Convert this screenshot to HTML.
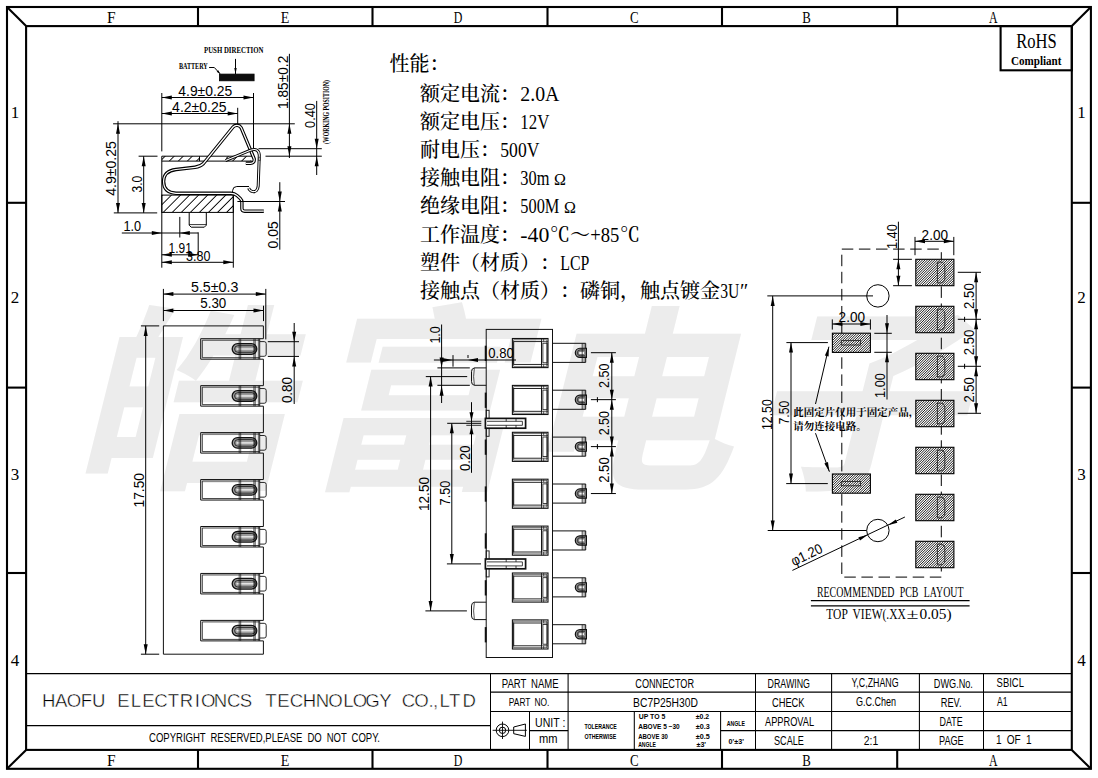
<!DOCTYPE html>
<html lang="zh"><head><meta charset="utf-8"><title>BC7P25H30D CONNECTOR</title>
<style>html,body{margin:0;padding:0;background:#fff;}svg{display:block;}text{white-space:pre;text-spacing-trim:space-all;}</style></head>
<body>
<svg width="1098" height="778" viewBox="0 0 1098 778">
<defs>
<pattern id="hpad" width="1.76" height="1.76" patternUnits="userSpaceOnUse" patternTransform="rotate(-45)"><rect width="1.76" height="1.76" fill="#fff"/><line x1="0" y1="0.88" x2="1.76" y2="0.88" stroke="#000" stroke-width="0.92"/></pattern>
<pattern id="hbat" width="2" height="2" patternUnits="userSpaceOnUse" patternTransform="rotate(-45)"><rect width="2" height="2" fill="#333"/><line x1="0" y1="1" x2="2" y2="1" stroke="#000" stroke-width="1.4"/></pattern>
<pattern id="hwall" width="6.4" height="6.4" patternUnits="userSpaceOnUse" patternTransform="rotate(-45)"><line x1="0" y1="3.2" x2="6.4" y2="3.2" stroke="#000" stroke-width="0.9"/></pattern>
</defs>
<rect width="1098" height="778" fill="#fff"/>
<g transform="translate(71,473.8) skewX(-14) scale(1.08,1)"><text x="0 214.7 413.7 625.6" y="0" font-size="199" font-family="'Liberation Sans', 'Noto Sans CJK SC', sans-serif" font-weight="700" fill="#ececec">皓富电子</text></g>
<rect x="7" y="7" width="1083.9" height="761.8" fill="none" stroke="#000" stroke-width="2.1" />
<rect x="26.1" y="26.1" width="1045.7" height="723.8" fill="none" stroke="#000" stroke-width="2.1" />
<line x1="7" y1="7" x2="26.1" y2="26.1" stroke="#000" stroke-width="2.1" />
<line x1="1090.9" y1="7" x2="1071.8" y2="26.1" stroke="#000" stroke-width="2.1" />
<line x1="7" y1="768.8" x2="26.1" y2="749.9" stroke="#000" stroke-width="2.1" />
<line x1="1090.9" y1="768.8" x2="1071.8" y2="749.9" stroke="#000" stroke-width="2.1" />
<line x1="198" y1="7" x2="198" y2="26.1" stroke="#000" stroke-width="2.1" />
<line x1="198" y1="749.9" x2="198" y2="768.8" stroke="#000" stroke-width="2.1" />
<line x1="372.5" y1="7" x2="372.5" y2="26.1" stroke="#000" stroke-width="2.1" />
<line x1="372.5" y1="749.9" x2="372.5" y2="768.8" stroke="#000" stroke-width="2.1" />
<line x1="547.5" y1="7" x2="547.5" y2="26.1" stroke="#000" stroke-width="2.1" />
<line x1="547.5" y1="749.9" x2="547.5" y2="768.8" stroke="#000" stroke-width="2.1" />
<line x1="722" y1="7" x2="722" y2="26.1" stroke="#000" stroke-width="2.1" />
<line x1="722" y1="749.9" x2="722" y2="768.8" stroke="#000" stroke-width="2.1" />
<line x1="897.2" y1="7" x2="897.2" y2="26.1" stroke="#000" stroke-width="2.1" />
<line x1="897.2" y1="749.9" x2="897.2" y2="768.8" stroke="#000" stroke-width="2.1" />
<line x1="7" y1="202.8" x2="26.1" y2="202.8" stroke="#000" stroke-width="2.1" />
<line x1="1071.8" y1="202.8" x2="1090.9" y2="202.8" stroke="#000" stroke-width="2.1" />
<line x1="7" y1="387.6" x2="26.1" y2="387.6" stroke="#000" stroke-width="2.1" />
<line x1="1071.8" y1="387.6" x2="1090.9" y2="387.6" stroke="#000" stroke-width="2.1" />
<line x1="7" y1="573" x2="26.1" y2="573" stroke="#000" stroke-width="2.1" />
<line x1="1071.8" y1="573" x2="1090.9" y2="573" stroke="#000" stroke-width="2.1" />
<text x="111.2" y="23" font-size="17" font-family="'Liberation Serif', 'Noto Serif CJK SC', serif" text-anchor="middle" fill="#000" textLength="8.6" lengthAdjust="spacingAndGlyphs" >F</text>
<text x="111.2" y="765.5" font-size="17" font-family="'Liberation Serif', 'Noto Serif CJK SC', serif" text-anchor="middle" fill="#000" textLength="8.6" lengthAdjust="spacingAndGlyphs" >F</text>
<text x="285" y="23" font-size="17" font-family="'Liberation Serif', 'Noto Serif CJK SC', serif" text-anchor="middle" fill="#000" textLength="8.6" lengthAdjust="spacingAndGlyphs" >E</text>
<text x="285" y="765.5" font-size="17" font-family="'Liberation Serif', 'Noto Serif CJK SC', serif" text-anchor="middle" fill="#000" textLength="8.6" lengthAdjust="spacingAndGlyphs" >E</text>
<text x="458" y="23" font-size="17" font-family="'Liberation Serif', 'Noto Serif CJK SC', serif" text-anchor="middle" fill="#000" textLength="8.6" lengthAdjust="spacingAndGlyphs" >D</text>
<text x="458" y="765.5" font-size="17" font-family="'Liberation Serif', 'Noto Serif CJK SC', serif" text-anchor="middle" fill="#000" textLength="8.6" lengthAdjust="spacingAndGlyphs" >D</text>
<text x="634.3" y="23" font-size="17" font-family="'Liberation Serif', 'Noto Serif CJK SC', serif" text-anchor="middle" fill="#000" textLength="8.6" lengthAdjust="spacingAndGlyphs" >C</text>
<text x="634.3" y="765.5" font-size="17" font-family="'Liberation Serif', 'Noto Serif CJK SC', serif" text-anchor="middle" fill="#000" textLength="8.6" lengthAdjust="spacingAndGlyphs" >C</text>
<text x="806.5" y="23" font-size="17" font-family="'Liberation Serif', 'Noto Serif CJK SC', serif" text-anchor="middle" fill="#000" textLength="8.6" lengthAdjust="spacingAndGlyphs" >B</text>
<text x="806.5" y="765.5" font-size="17" font-family="'Liberation Serif', 'Noto Serif CJK SC', serif" text-anchor="middle" fill="#000" textLength="8.6" lengthAdjust="spacingAndGlyphs" >B</text>
<text x="993.2" y="23" font-size="17" font-family="'Liberation Serif', 'Noto Serif CJK SC', serif" text-anchor="middle" fill="#000" textLength="8.6" lengthAdjust="spacingAndGlyphs" >A</text>
<text x="993.2" y="765.5" font-size="17" font-family="'Liberation Serif', 'Noto Serif CJK SC', serif" text-anchor="middle" fill="#000" textLength="8.6" lengthAdjust="spacingAndGlyphs" >A</text>
<text x="15" y="118" font-size="17" font-family="'Liberation Serif', 'Noto Serif CJK SC', serif" text-anchor="middle" fill="#000" >1</text>
<text x="1081.5" y="118" font-size="17" font-family="'Liberation Serif', 'Noto Serif CJK SC', serif" text-anchor="middle" fill="#000" >1</text>
<text x="15" y="303.2" font-size="17" font-family="'Liberation Serif', 'Noto Serif CJK SC', serif" text-anchor="middle" fill="#000" >2</text>
<text x="1081.5" y="303.2" font-size="17" font-family="'Liberation Serif', 'Noto Serif CJK SC', serif" text-anchor="middle" fill="#000" >2</text>
<text x="15" y="480.1" font-size="17" font-family="'Liberation Serif', 'Noto Serif CJK SC', serif" text-anchor="middle" fill="#000" >3</text>
<text x="1081.5" y="480.1" font-size="17" font-family="'Liberation Serif', 'Noto Serif CJK SC', serif" text-anchor="middle" fill="#000" >3</text>
<text x="15" y="666.2" font-size="17" font-family="'Liberation Serif', 'Noto Serif CJK SC', serif" text-anchor="middle" fill="#000" >4</text>
<text x="1081.5" y="666.2" font-size="17" font-family="'Liberation Serif', 'Noto Serif CJK SC', serif" text-anchor="middle" fill="#000" >4</text>
<rect x="1000.6" y="26.1" width="71.2" height="44.2" fill="none" stroke="#000" stroke-width="2.1" />
<text x="1036.4" y="48.3" font-size="22" font-family="'Liberation Serif', 'Noto Serif CJK SC', serif" text-anchor="middle" fill="#000" textLength="40.5" lengthAdjust="spacingAndGlyphs" >RoHS</text>
<text x="1036.2" y="64.8" font-size="11.5" font-family="'Liberation Serif', 'Noto Serif CJK SC', serif" text-anchor="middle" fill="#000" font-weight="bold" textLength="50.5" lengthAdjust="spacingAndGlyphs" >Compliant</text>
<line x1="26.1" y1="673.6" x2="1071.8" y2="673.6" stroke="#000" stroke-width="1.05" />
<line x1="26.1" y1="725.6" x2="490.5" y2="725.6" stroke="#000" stroke-width="1.05" />
<line x1="490.5" y1="673.6" x2="490.5" y2="749.9" stroke="#000" stroke-width="1.05" />
<line x1="490.5" y1="692.1" x2="1071.8" y2="692.1" stroke="#000" stroke-width="1.05" />
<line x1="490.5" y1="711.4" x2="1071.8" y2="711.4" stroke="#000" stroke-width="1.05" />
<line x1="529.5" y1="730.6" x2="568.1" y2="730.6" stroke="#000" stroke-width="1.05" />
<line x1="720.6" y1="730.6" x2="1071.8" y2="730.6" stroke="#000" stroke-width="1.05" />
<line x1="529.5" y1="711.4" x2="529.5" y2="749.9" stroke="#000" stroke-width="1.05" />
<line x1="568.1" y1="673.6" x2="568.1" y2="749.9" stroke="#000" stroke-width="1.05" />
<line x1="634.3" y1="711.4" x2="634.3" y2="749.9" stroke="#000" stroke-width="1.05" />
<line x1="720.6" y1="711.4" x2="720.6" y2="749.9" stroke="#000" stroke-width="1.05" />
<line x1="755.5" y1="673.6" x2="755.5" y2="749.9" stroke="#000" stroke-width="1.05" />
<line x1="831.6" y1="673.6" x2="831.6" y2="749.9" stroke="#000" stroke-width="1.05" />
<line x1="919.4" y1="673.6" x2="919.4" y2="749.9" stroke="#000" stroke-width="1.05" />
<line x1="983.5" y1="673.6" x2="983.5" y2="749.9" stroke="#000" stroke-width="1.05" />
<circle cx="502.5" cy="730.3" r="6.3" fill="none" stroke="#000" stroke-width="1"/>
<circle cx="502.5" cy="730.3" r="3.2" fill="none" stroke="#000" stroke-width="1"/>
<line x1="492.6" y1="730.3" x2="526.8" y2="730.3" stroke="#000" stroke-width="0.9" />
<line x1="502.5" y1="721.6" x2="502.5" y2="739" stroke="#000" stroke-width="0.9" />
<path d="M513.7,727 L525.4,724 L525.4,736.4 L513.7,733.7 Z" fill="none" stroke="#000" stroke-width="1" />
<text x="48.6 61.2 73.9 86.5 98.8 111.2 123.5 136 148.5 161 173.5 186.5 197.3 208.2 220.5 233.7 246 258.5 271 283.5 296.5 309.5 322.5 335.5 348.5 360 372.5 385.5 397 408.5 421.5 431 435.5 444.6 454.8 469.3" y="706.6" font-size="18.6" font-family="'Liberation Sans', sans-serif" text-anchor="middle" fill="#000" stroke="#fff" stroke-width="0.45">HAOFU ELECTRIONCS TECHNOLOGY CO.,LTD</text>
<text x="149" y="742.3" font-size="12.3" font-family="'Liberation Sans', sans-serif" text-anchor="start" fill="#000" textLength="231" lengthAdjust="spacingAndGlyphs" word-spacing="3">COPYRIGHT RESERVED,PLEASE DO NOT COPY.</text>
<text x="501.8" y="688" font-size="13.2" font-family="'Liberation Sans', sans-serif" text-anchor="start" fill="#000" textLength="56.8" lengthAdjust="spacingAndGlyphs" word-spacing="3">PART NAME</text>
<text x="508.8" y="705.8" font-size="11.3" font-family="'Liberation Sans', sans-serif" text-anchor="start" fill="#000" textLength="40.6" lengthAdjust="spacingAndGlyphs" word-spacing="2.5">PART NO.</text>
<text x="535.1" y="727" font-size="12.2" font-family="'Liberation Sans', sans-serif" text-anchor="start" fill="#000" textLength="30.3" lengthAdjust="spacingAndGlyphs" >UNIT :</text>
<text x="538.9" y="742.7" font-size="12.5" font-family="'Liberation Sans', sans-serif" text-anchor="start" fill="#000" textLength="18.5" lengthAdjust="spacingAndGlyphs" >mm</text>
<text x="584.4" y="728.8" font-size="8" font-family="'Liberation Sans', sans-serif" text-anchor="start" fill="#000" font-weight="bold" textLength="32.3" lengthAdjust="spacingAndGlyphs" >TOLERANCE</text>
<text x="584.4" y="739" font-size="8" font-family="'Liberation Sans', sans-serif" text-anchor="start" fill="#000" font-weight="bold" textLength="31.8" lengthAdjust="spacingAndGlyphs" >OTHERWISE</text>
<text x="635.3" y="688" font-size="13.2" font-family="'Liberation Sans', sans-serif" text-anchor="start" fill="#000" textLength="58.7" lengthAdjust="spacingAndGlyphs" >CONNECTOR</text>
<text x="633.1" y="707.4" font-size="12.8" font-family="'Liberation Sans', sans-serif" text-anchor="start" fill="#000" textLength="64.9" lengthAdjust="spacingAndGlyphs" >BC7P25H30D</text>
<text x="638.7" y="719.2" font-size="7.2" font-family="'Liberation Sans', sans-serif" text-anchor="start" fill="#000" font-weight="bold" textLength="26.6" lengthAdjust="spacingAndGlyphs" >UP TO 5</text>
<text x="695.8" y="719.2" font-size="7.2" font-family="'Liberation Sans', sans-serif" text-anchor="start" fill="#000" font-weight="bold" textLength="13.4" lengthAdjust="spacingAndGlyphs" >±0.2</text>
<text x="638.2" y="728.8" font-size="7.2" font-family="'Liberation Sans', sans-serif" text-anchor="start" fill="#000" font-weight="bold" textLength="41.5" lengthAdjust="spacingAndGlyphs" >ABOVE 5 ~30</text>
<text x="695.8" y="728.8" font-size="7.2" font-family="'Liberation Sans', sans-serif" text-anchor="start" fill="#000" font-weight="bold" textLength="14" lengthAdjust="spacingAndGlyphs" >±0.3</text>
<text x="638.2" y="738.6" font-size="7.2" font-family="'Liberation Sans', sans-serif" text-anchor="start" fill="#000" font-weight="bold" textLength="29.6" lengthAdjust="spacingAndGlyphs" >ABOVE 30</text>
<text x="695.8" y="738.6" font-size="7.2" font-family="'Liberation Sans', sans-serif" text-anchor="start" fill="#000" font-weight="bold" textLength="14" lengthAdjust="spacingAndGlyphs" >±0.5</text>
<text x="638.2" y="747.4" font-size="7.2" font-family="'Liberation Sans', sans-serif" text-anchor="start" fill="#000" font-weight="bold" textLength="17.8" lengthAdjust="spacingAndGlyphs" >ANGLE</text>
<text x="696.5" y="747.4" font-size="7.2" font-family="'Liberation Sans', sans-serif" text-anchor="start" fill="#000" font-weight="bold" textLength="9.5" lengthAdjust="spacingAndGlyphs" >±3'</text>
<text x="726.8" y="725.9" font-size="7.2" font-family="'Liberation Sans', sans-serif" text-anchor="start" fill="#000" font-weight="bold" textLength="18.1" lengthAdjust="spacingAndGlyphs" >ANGLE</text>
<text x="728.6" y="743.9" font-size="7.2" font-family="'Liberation Sans', sans-serif" text-anchor="start" fill="#000" font-weight="bold" textLength="15.3" lengthAdjust="spacingAndGlyphs" >0'±3'</text>
<text x="767.5" y="688" font-size="13.2" font-family="'Liberation Sans', sans-serif" text-anchor="start" fill="#000" textLength="42.5" lengthAdjust="spacingAndGlyphs" >DRAWING</text>
<text x="771.9" y="706.8" font-size="13" font-family="'Liberation Sans', sans-serif" text-anchor="start" fill="#000" textLength="32.7" lengthAdjust="spacingAndGlyphs" >CHECK</text>
<text x="765" y="725.6" font-size="13" font-family="'Liberation Sans', sans-serif" text-anchor="start" fill="#000" textLength="49.1" lengthAdjust="spacingAndGlyphs" >APPROVAL</text>
<text x="774" y="744.9" font-size="13" font-family="'Liberation Sans', sans-serif" text-anchor="start" fill="#000" textLength="29.9" lengthAdjust="spacingAndGlyphs" >SCALE</text>
<text x="851.6" y="687.3" font-size="12.2" font-family="'Liberation Sans', sans-serif" text-anchor="start" fill="#000" textLength="47" lengthAdjust="spacingAndGlyphs" >Y,C,ZHANG</text>
<text x="855.9" y="706.2" font-size="12.2" font-family="'Liberation Sans', sans-serif" text-anchor="start" fill="#000" textLength="40.1" lengthAdjust="spacingAndGlyphs" >G.C.Chen</text>
<text x="863.7" y="744.9" font-size="12.6" font-family="'Liberation Sans', sans-serif" text-anchor="start" fill="#000" textLength="14.5" lengthAdjust="spacingAndGlyphs" >2:1</text>
<text x="933.8" y="688" font-size="13.2" font-family="'Liberation Sans', sans-serif" text-anchor="start" fill="#000" textLength="39.1" lengthAdjust="spacingAndGlyphs" >DWG.No.</text>
<text x="940.8" y="707" font-size="12.4" font-family="'Liberation Sans', sans-serif" text-anchor="start" fill="#000" textLength="20.7" lengthAdjust="spacingAndGlyphs" >REV.</text>
<text x="939.6" y="726" font-size="12.6" font-family="'Liberation Sans', sans-serif" text-anchor="start" fill="#000" textLength="23.1" lengthAdjust="spacingAndGlyphs" >DATE</text>
<text x="939" y="744.6" font-size="12.8" font-family="'Liberation Sans', sans-serif" text-anchor="start" fill="#000" textLength="24.7" lengthAdjust="spacingAndGlyphs" >PAGE</text>
<text x="996.6" y="687" font-size="12.8" font-family="'Liberation Sans', sans-serif" text-anchor="start" fill="#000" textLength="27.3" lengthAdjust="spacingAndGlyphs" >SBICL</text>
<text x="996.9" y="706.3" font-size="12.4" font-family="'Liberation Sans', sans-serif" text-anchor="start" fill="#000" textLength="10.6" lengthAdjust="spacingAndGlyphs" >A1</text>
<text x="995.9" y="744.2" font-size="12.4" font-family="'Liberation Sans', sans-serif" text-anchor="start" fill="#000" textLength="35.7" lengthAdjust="spacingAndGlyphs" word-spacing="3">1 OF 1</text>
<text x="389.6" y="70.8" font-size="20" font-family="'Liberation Serif', 'Noto Serif CJK SC', serif" text-anchor="start" fill="#000" font-weight="500" >性能：</text>
<text x="420" y="100.9" font-size="20" font-family="'Liberation Serif', 'Noto Serif CJK SC', serif" text-anchor="start" fill="#000" font-weight="500" >额定电流：</text>
<text x="520.3" y="100.9" font-size="20" font-family="'Liberation Serif', 'Noto Serif CJK SC', serif" text-anchor="start" fill="#000" textLength="39.1" lengthAdjust="spacingAndGlyphs" >2.0A</text>
<text x="420" y="129.3" font-size="20" font-family="'Liberation Serif', 'Noto Serif CJK SC', serif" text-anchor="start" fill="#000" font-weight="500" >额定电压：</text>
<text x="520.3" y="129.3" font-size="20" font-family="'Liberation Serif', 'Noto Serif CJK SC', serif" text-anchor="start" fill="#000" textLength="29.1" lengthAdjust="spacingAndGlyphs" >12V</text>
<text x="420" y="157" font-size="20" font-family="'Liberation Serif', 'Noto Serif CJK SC', serif" text-anchor="start" fill="#000" font-weight="500" >耐电压：</text>
<text x="500.3" y="157" font-size="20" font-family="'Liberation Serif', 'Noto Serif CJK SC', serif" text-anchor="start" fill="#000" textLength="39.1" lengthAdjust="spacingAndGlyphs" >500V</text>
<text x="420" y="184.8" font-size="20" font-family="'Liberation Serif', 'Noto Serif CJK SC', serif" text-anchor="start" fill="#000" font-weight="500" >接触电阻：</text>
<text x="520.3" y="184.8" font-size="20" font-family="'Liberation Serif', 'Noto Serif CJK SC', serif" text-anchor="start" fill="#000" textLength="29.1" lengthAdjust="spacingAndGlyphs" >30m</text>
<text x="560" y="184.8" font-size="16" font-family="'Liberation Serif', 'Noto Serif CJK SC', serif" text-anchor="middle" fill="#000" >Ω</text>
<text x="420" y="213.2" font-size="20" font-family="'Liberation Serif', 'Noto Serif CJK SC', serif" text-anchor="start" fill="#000" font-weight="500" >绝缘电阻：</text>
<text x="520.3" y="213.2" font-size="20" font-family="'Liberation Serif', 'Noto Serif CJK SC', serif" text-anchor="start" fill="#000" textLength="39.1" lengthAdjust="spacingAndGlyphs" >500M</text>
<text x="570" y="213.2" font-size="16" font-family="'Liberation Serif', 'Noto Serif CJK SC', serif" text-anchor="middle" fill="#000" >Ω</text>
<text x="420" y="242.2" font-size="20" font-family="'Liberation Serif', 'Noto Serif CJK SC', serif" text-anchor="start" fill="#000" font-weight="500" >工作温度：</text>
<text x="520.3" y="242.2" font-size="20" font-family="'Liberation Serif', 'Noto Serif CJK SC', serif" text-anchor="start" fill="#000" textLength="29.1" lengthAdjust="spacingAndGlyphs" >-40</text>
<text x="550" y="242.2" font-size="20" font-family="'Liberation Serif', 'Noto Serif CJK SC', serif" text-anchor="start" fill="#000" font-weight="500" >℃～</text>
<text x="590.3" y="242.2" font-size="20" font-family="'Liberation Serif', 'Noto Serif CJK SC', serif" text-anchor="start" fill="#000" textLength="29.1" lengthAdjust="spacingAndGlyphs" >+85</text>
<text x="620" y="242.2" font-size="20" font-family="'Liberation Serif', 'Noto Serif CJK SC', serif" text-anchor="start" fill="#000" font-weight="500" >℃</text>
<text x="420" y="269.8" font-size="20" font-family="'Liberation Serif', 'Noto Serif CJK SC', serif" text-anchor="start" fill="#000" font-weight="500" >塑件（材质）：</text>
<text x="560.3" y="269.8" font-size="20" font-family="'Liberation Serif', 'Noto Serif CJK SC', serif" text-anchor="start" fill="#000" textLength="29.1" lengthAdjust="spacingAndGlyphs" >LCP</text>
<text x="420" y="298.4" font-size="20" font-family="'Liberation Serif', 'Noto Serif CJK SC', serif" text-anchor="start" fill="#000" font-weight="500" >接触点（材质）：磷铜，触点镀金</text>
<text x="720.3" y="298.4" font-size="20" font-family="'Liberation Serif', 'Noto Serif CJK SC', serif" text-anchor="start" fill="#000" textLength="19.1" lengthAdjust="spacingAndGlyphs" >3U</text>
<text x="740" y="298.4" font-size="20" font-family="'Liberation Serif', 'Noto Serif CJK SC', serif" text-anchor="start" fill="#000" font-weight="500" >″</text>
<rect x="161.8" y="156.2" width="37.7" height="4.9" fill="url(#hwall)"/>
<rect x="226" y="156.2" width="25" height="4.9" fill="url(#hwall)"/>
<rect x="161.8" y="195.1" width="71.5" height="17.3" fill="url(#hwall)"/>
<line x1="161.8" y1="156.2" x2="252" y2="156.2" stroke="#000" stroke-width="1.0" />
<line x1="161.8" y1="161.1" x2="252" y2="161.1" stroke="#000" stroke-width="1.0" />
<line x1="199.5" y1="156.2" x2="199.5" y2="161.1" stroke="#000" stroke-width="1.0" />
<rect x="161.8" y="195.1" width="71.5" height="17.3" fill="none" stroke="#000" stroke-width="1.0" />
<line x1="161.8" y1="156.2" x2="161.8" y2="267.7" stroke="#000" stroke-width="1.0" />
<line x1="161.8" y1="93" x2="161.8" y2="151.4" stroke="#000" stroke-width="1.0" />
<line x1="233.3" y1="195.1" x2="233.3" y2="267.7" stroke="#000" stroke-width="1.0" />
<path d="M189.2,212.4 V225.2 L191.2,227.2 H204.3 L206.3,225.2 V212.4" fill="none" stroke="#000" stroke-width="1.0" />
<line x1="189.2" y1="224.6" x2="206.3" y2="224.6" stroke="#000" stroke-width="0.8" />
<path d="M232.6,195 V190.5 Q232.8,186.6 236.8,186.5 H249" fill="none" stroke="#000" stroke-width="1.0" />
<path d="M245.8,163.3 H250.5 Q254.6,163.3 254.2,159 L253.6,157.5 L241.2,127.8 A5,5 0 0 0 233.1,127 L203.5,163.5 Q200.5,166.6 195,167.3 L176,169.5 Q163.6,171 163.6,181.6 Q163.6,192.6 176,193.3 L231,193.3 Q234.5,193.3 237,195.5 L240.3,198.5 Q241.9,200 241.9,202.5 V208.5 Q241.9,211.2 244.6,211.2 H263.8" fill="none" stroke="#000" stroke-width="3.4" stroke-linecap="butt" stroke-linejoin="round" />
<path d="M245.8,163.3 H250.5 Q254.6,163.3 254.2,159 L253.6,157.5 L241.2,127.8 A5,5 0 0 0 233.1,127 L203.5,163.5 Q200.5,166.6 195,167.3 L176,169.5 Q163.6,171 163.6,181.6 Q163.6,192.6 176,193.3 L231,193.3 Q234.5,193.3 237,195.5 L240.3,198.5 Q241.9,200 241.9,202.5 V208.5 Q241.9,211.2 244.6,211.2 H263.8" fill="none" stroke="#fff" stroke-width="1.2" stroke-linecap="butt" stroke-linejoin="round" />
<path d="M225.5,160.6 L250.5,150.2 Q258.6,147.6 259.3,155 L258.2,186 Q257.6,192.2 252.6,191.6 Q249.8,191 248.6,188.2" fill="none" stroke="#000" stroke-width="3.0" stroke-linecap="butt" stroke-linejoin="round" />
<path d="M225.5,160.6 L250.5,150.2 Q258.6,147.6 259.3,155 L258.2,186 Q257.6,192.2 252.6,191.6 Q249.8,191 248.6,188.2" fill="none" stroke="#fff" stroke-width="1.1" stroke-linecap="butt" stroke-linejoin="round" />
<rect x="258.5" y="157.2" width="2.1" height="3.2" fill="none" stroke="#333" stroke-width="0.7" />
<line x1="113.1" y1="123.8" x2="294.8" y2="123.8" stroke="#000" stroke-width="1.0" />
<line x1="138.6" y1="156.2" x2="157.5" y2="156.2" stroke="#000" stroke-width="1.0" />
<line x1="265.5" y1="156.2" x2="321.8" y2="156.2" stroke="#000" stroke-width="1.0" />
<line x1="258.5" y1="148.7" x2="321.8" y2="148.7" stroke="#000" stroke-width="1.0" />
<line x1="113.8" y1="212.9" x2="157.2" y2="212.9" stroke="#000" stroke-width="1.0" />
<line x1="237.4" y1="201.5" x2="285" y2="201.5" stroke="#000" stroke-width="1.0" />
<line x1="253.5" y1="93" x2="253.5" y2="148" stroke="#000" stroke-width="1.0" />
<line x1="237.7" y1="107.8" x2="237.7" y2="124.5" stroke="#000" stroke-width="1.0" />
<line x1="161.8" y1="97.5" x2="253.5" y2="97.5" stroke="#000" stroke-width="1.0" />
<polygon points="161.8,97.5 171.8,95.5 171.8,99.5" fill="#000"/>
<polygon points="253.5,97.5 243.5,99.5 243.5,95.5" fill="#000"/>
<line x1="161.8" y1="113.5" x2="237.7" y2="113.5" stroke="#000" stroke-width="1.0" />
<polygon points="161.8,113.5 171.8,111.5 171.8,115.5" fill="#000"/>
<polygon points="237.7,113.5 227.7,115.5 227.7,111.5" fill="#000"/>
<text x="178.3" y="95.6" font-size="14.2" font-family="'Liberation Sans', sans-serif" text-anchor="start" fill="#000" textLength="54" lengthAdjust="spacingAndGlyphs" >4.9±0.25</text>
<text x="172.1" y="111.6" font-size="14.2" font-family="'Liberation Sans', sans-serif" text-anchor="start" fill="#000" textLength="54.4" lengthAdjust="spacingAndGlyphs" >4.2±0.25</text>
<line x1="118" y1="121.2" x2="118" y2="212.9" stroke="#000" stroke-width="1.0" />
<polygon points="118,123.8 120,133.8 116,133.8" fill="#000"/>
<polygon points="118,212.9 116,202.9 120,202.9" fill="#000"/>
<line x1="143.7" y1="156.2" x2="143.7" y2="212.9" stroke="#000" stroke-width="1.0" />
<polygon points="143.7,156.2 145.7,166.2 141.7,166.2" fill="#000"/>
<polygon points="143.7,212.9 141.7,202.9 145.7,202.9" fill="#000"/>
<text transform="translate(116.3,195.8) rotate(-90)" font-size="14.2" font-family="'Liberation Sans', sans-serif" fill="#000" textLength="54.7" lengthAdjust="spacingAndGlyphs" >4.9±0.25</text>
<text transform="translate(142,192.5) rotate(-90)" font-size="14.2" font-family="'Liberation Sans', sans-serif" fill="#000" textLength="16.7" lengthAdjust="spacingAndGlyphs" >3.0</text>
<line x1="289.4" y1="53.8" x2="289.4" y2="158" stroke="#000" stroke-width="1.0" />
<polygon points="289.4,123.8 291.4,133.8 287.4,133.8" fill="#000"/>
<polygon points="289.4,156.2 287.4,146.2 291.4,146.2" fill="#000"/>
<text transform="translate(288.2,109) rotate(-90)" font-size="14.2" font-family="'Liberation Sans', sans-serif" fill="#000" textLength="53.3" lengthAdjust="spacingAndGlyphs" >1.85±0.2</text>
<line x1="316.7" y1="100.9" x2="316.7" y2="175" stroke="#000" stroke-width="1.0" />
<polygon points="316.7,148.7 314.7,138.7 318.7,138.7" fill="#000"/>
<polygon points="316.7,156.2 318.7,166.2 314.7,166.2" fill="#000"/>
<text transform="translate(314.8,127.9) rotate(-90)" font-size="14.2" font-family="'Liberation Sans', sans-serif" fill="#000" textLength="24.7" lengthAdjust="spacingAndGlyphs" >0.40</text>
<text transform="translate(329.2,144.1) rotate(-90)" font-size="7.4" font-family="'Liberation Serif', 'Noto Serif CJK SC', serif" fill="#000" font-weight="bold" textLength="64.1" lengthAdjust="spacingAndGlyphs" >(WORKING POSITION)</text>
<line x1="279.8" y1="182.2" x2="279.8" y2="249.7" stroke="#000" stroke-width="1.0" />
<polygon points="279.8,201.5 277.8,191.5 281.8,191.5" fill="#000"/>
<polygon points="279.8,201.5 281.8,211.5 277.8,211.5" fill="#000"/>
<text transform="translate(277.9,248.4) rotate(-90)" font-size="14.2" font-family="'Liberation Sans', sans-serif" fill="#000" textLength="27" lengthAdjust="spacingAndGlyphs" >0.05</text>
<line x1="121.8" y1="233" x2="198.2" y2="233" stroke="#000" stroke-width="1.0" />
<polygon points="161.8,233 151.8,235 151.8,231" fill="#000"/>
<polygon points="179.8,233 189.8,231 189.8,235" fill="#000"/>
<line x1="179.8" y1="216.9" x2="179.8" y2="237.5" stroke="#000" stroke-width="1.0" />
<line x1="198.2" y1="232.3" x2="198.2" y2="255.5" stroke="#000" stroke-width="1.0" />
<text x="123.4" y="231" font-size="14.2" font-family="'Liberation Sans', sans-serif" text-anchor="start" fill="#000" textLength="17.7" lengthAdjust="spacingAndGlyphs" >1.0</text>
<line x1="161.8" y1="254.8" x2="198.2" y2="254.8" stroke="#000" stroke-width="1.0" />
<polygon points="161.8,254.8 171.8,252.8 171.8,256.8" fill="#000"/>
<polygon points="198.2,254.8 188.2,256.8 188.2,252.8" fill="#000"/>
<text x="168.6" y="252.9" font-size="14.2" font-family="'Liberation Sans', sans-serif" text-anchor="start" fill="#000" textLength="23.2" lengthAdjust="spacingAndGlyphs" >1.91</text>
<line x1="161.8" y1="262.3" x2="233.3" y2="262.3" stroke="#000" stroke-width="1.0" />
<polygon points="161.8,262.3 171.8,260.3 171.8,264.3" fill="#000"/>
<polygon points="233.3,262.3 223.3,264.3 223.3,260.3" fill="#000"/>
<text x="186" y="260.6" font-size="14.2" font-family="'Liberation Sans', sans-serif" text-anchor="start" fill="#000" textLength="24.4" lengthAdjust="spacingAndGlyphs" >3.80</text>
<rect x="219.4" y="74.1" width="34.7" height="6.7" fill="url(#hbat)" stroke="#000" stroke-width="0.8"/>
<line x1="235.5" y1="58.9" x2="235.5" y2="74.1" stroke="#000" stroke-width="1.0" />
<polygon points="235.5,74.1 234.3,68.1 236.7,68.1" fill="#000"/>
<path d="M209.1,67.5 H214.3 L220,73.7" fill="none" stroke="#000" stroke-width="1.0" />
<polygon points="220.2,74 216.67,71.82 218.28,70.32" fill="#000"/>
<text x="204" y="53.1" font-size="8.6" font-family="'Liberation Serif', 'Noto Serif CJK SC', serif" text-anchor="start" fill="#000" font-weight="bold" textLength="59.4" lengthAdjust="spacingAndGlyphs" >PUSH DIRECTION</text>
<text x="178.9" y="68.9" font-size="8.6" font-family="'Liberation Serif', 'Noto Serif CJK SC', serif" text-anchor="start" fill="#000" font-weight="bold" textLength="28.9" lengthAdjust="spacingAndGlyphs" >BATTERY</text>
<path d="M263.4,325.9 H163.4 V654.2 H263.4" fill="none" stroke="#111" stroke-width="1.0" />
<line x1="263.4" y1="325.9" x2="263.4" y2="338.7" stroke="#111" stroke-width="1.0" />
<path d="M263.4,338.7 H200.7 V359.2 H263.4" fill="none" stroke="#111" stroke-width="1.0" />
<path d="M259.7,340.2 H202.3 V357.7 H259.7" fill="none" stroke="#111" stroke-width="0.8" />
<line x1="259.7" y1="338.7" x2="259.7" y2="359.2" stroke="#111" stroke-width="0.9" />
<line x1="258.4" y1="338.7" x2="258.4" y2="359.2" stroke="#111" stroke-width="0.6" />
<path d="M259.7,341.6 H264.2 Q266.2,341.6 266.2,343.6 V354.3 Q266.2,356.3 264.2,356.3 H259.7" fill="none" stroke="#111" stroke-width="0.9" />
<rect x="232.2" y="343.7" width="24.6" height="10.6" rx="5.3" fill="#9a9a9a" stroke="#111" stroke-width="1.3"/>
<rect x="234.6" y="345.7" width="20.6" height="6.6" rx="3.3" fill="none" stroke="#111" stroke-width="0.8"/>
<line x1="236.5" y1="349" x2="254" y2="349" stroke="#e4e4e4" stroke-width="1.6" />
<line x1="239.2" y1="338.7" x2="239.2" y2="359.2" stroke="#111" stroke-width="0.7" />
<line x1="240.7" y1="338.7" x2="240.7" y2="359.2" stroke="#111" stroke-width="0.7" />
<line x1="253.9" y1="338.7" x2="253.9" y2="359.2" stroke="#111" stroke-width="0.7" />
<line x1="255.2" y1="338.7" x2="255.2" y2="359.2" stroke="#111" stroke-width="0.7" />
<line x1="263.4" y1="359.2" x2="263.4" y2="385.65" stroke="#111" stroke-width="1.0" />
<path d="M263.4,385.65 H200.7 V406.15 H263.4" fill="none" stroke="#111" stroke-width="1.0" />
<path d="M259.7,387.15 H202.3 V404.65 H259.7" fill="none" stroke="#111" stroke-width="0.8" />
<line x1="259.7" y1="385.65" x2="259.7" y2="406.15" stroke="#111" stroke-width="0.9" />
<line x1="258.4" y1="385.65" x2="258.4" y2="406.15" stroke="#111" stroke-width="0.6" />
<path d="M259.7,388.55 H264.2 Q266.2,388.55 266.2,390.55 V401.25 Q266.2,403.25 264.2,403.25 H259.7" fill="none" stroke="#111" stroke-width="0.9" />
<rect x="232.2" y="390.65" width="24.6" height="10.6" rx="5.3" fill="#9a9a9a" stroke="#111" stroke-width="1.3"/>
<rect x="234.6" y="392.65" width="20.6" height="6.6" rx="3.3" fill="none" stroke="#111" stroke-width="0.8"/>
<line x1="236.5" y1="395.95" x2="254" y2="395.95" stroke="#e4e4e4" stroke-width="1.6" />
<line x1="239.2" y1="385.65" x2="239.2" y2="406.15" stroke="#111" stroke-width="0.7" />
<line x1="240.7" y1="385.65" x2="240.7" y2="406.15" stroke="#111" stroke-width="0.7" />
<line x1="253.9" y1="385.65" x2="253.9" y2="406.15" stroke="#111" stroke-width="0.7" />
<line x1="255.2" y1="385.65" x2="255.2" y2="406.15" stroke="#111" stroke-width="0.7" />
<line x1="263.4" y1="406.15" x2="263.4" y2="432.6" stroke="#111" stroke-width="1.0" />
<path d="M263.4,432.6 H200.7 V453.1 H263.4" fill="none" stroke="#111" stroke-width="1.0" />
<path d="M259.7,434.1 H202.3 V451.6 H259.7" fill="none" stroke="#111" stroke-width="0.8" />
<line x1="259.7" y1="432.6" x2="259.7" y2="453.1" stroke="#111" stroke-width="0.9" />
<line x1="258.4" y1="432.6" x2="258.4" y2="453.1" stroke="#111" stroke-width="0.6" />
<path d="M259.7,435.5 H264.2 Q266.2,435.5 266.2,437.5 V448.2 Q266.2,450.2 264.2,450.2 H259.7" fill="none" stroke="#111" stroke-width="0.9" />
<rect x="232.2" y="437.6" width="24.6" height="10.6" rx="5.3" fill="#9a9a9a" stroke="#111" stroke-width="1.3"/>
<rect x="234.6" y="439.6" width="20.6" height="6.6" rx="3.3" fill="none" stroke="#111" stroke-width="0.8"/>
<line x1="236.5" y1="442.9" x2="254" y2="442.9" stroke="#e4e4e4" stroke-width="1.6" />
<line x1="239.2" y1="432.6" x2="239.2" y2="453.1" stroke="#111" stroke-width="0.7" />
<line x1="240.7" y1="432.6" x2="240.7" y2="453.1" stroke="#111" stroke-width="0.7" />
<line x1="253.9" y1="432.6" x2="253.9" y2="453.1" stroke="#111" stroke-width="0.7" />
<line x1="255.2" y1="432.6" x2="255.2" y2="453.1" stroke="#111" stroke-width="0.7" />
<line x1="263.4" y1="453.1" x2="263.4" y2="479.55" stroke="#111" stroke-width="1.0" />
<path d="M263.4,479.55 H200.7 V500.05 H263.4" fill="none" stroke="#111" stroke-width="1.0" />
<path d="M259.7,481.05 H202.3 V498.55 H259.7" fill="none" stroke="#111" stroke-width="0.8" />
<line x1="259.7" y1="479.55" x2="259.7" y2="500.05" stroke="#111" stroke-width="0.9" />
<line x1="258.4" y1="479.55" x2="258.4" y2="500.05" stroke="#111" stroke-width="0.6" />
<path d="M259.7,482.45 H264.2 Q266.2,482.45 266.2,484.45 V495.15 Q266.2,497.15 264.2,497.15 H259.7" fill="none" stroke="#111" stroke-width="0.9" />
<rect x="232.2" y="484.55" width="24.6" height="10.6" rx="5.3" fill="#9a9a9a" stroke="#111" stroke-width="1.3"/>
<rect x="234.6" y="486.55" width="20.6" height="6.6" rx="3.3" fill="none" stroke="#111" stroke-width="0.8"/>
<line x1="236.5" y1="489.85" x2="254" y2="489.85" stroke="#e4e4e4" stroke-width="1.6" />
<line x1="239.2" y1="479.55" x2="239.2" y2="500.05" stroke="#111" stroke-width="0.7" />
<line x1="240.7" y1="479.55" x2="240.7" y2="500.05" stroke="#111" stroke-width="0.7" />
<line x1="253.9" y1="479.55" x2="253.9" y2="500.05" stroke="#111" stroke-width="0.7" />
<line x1="255.2" y1="479.55" x2="255.2" y2="500.05" stroke="#111" stroke-width="0.7" />
<line x1="263.4" y1="500.05" x2="263.4" y2="526.5" stroke="#111" stroke-width="1.0" />
<path d="M263.4,526.5 H200.7 V547 H263.4" fill="none" stroke="#111" stroke-width="1.0" />
<path d="M259.7,528 H202.3 V545.5 H259.7" fill="none" stroke="#111" stroke-width="0.8" />
<line x1="259.7" y1="526.5" x2="259.7" y2="547" stroke="#111" stroke-width="0.9" />
<line x1="258.4" y1="526.5" x2="258.4" y2="547" stroke="#111" stroke-width="0.6" />
<path d="M259.7,529.4 H264.2 Q266.2,529.4 266.2,531.4 V542.1 Q266.2,544.1 264.2,544.1 H259.7" fill="none" stroke="#111" stroke-width="0.9" />
<rect x="232.2" y="531.5" width="24.6" height="10.6" rx="5.3" fill="#9a9a9a" stroke="#111" stroke-width="1.3"/>
<rect x="234.6" y="533.5" width="20.6" height="6.6" rx="3.3" fill="none" stroke="#111" stroke-width="0.8"/>
<line x1="236.5" y1="536.8" x2="254" y2="536.8" stroke="#e4e4e4" stroke-width="1.6" />
<line x1="239.2" y1="526.5" x2="239.2" y2="547" stroke="#111" stroke-width="0.7" />
<line x1="240.7" y1="526.5" x2="240.7" y2="547" stroke="#111" stroke-width="0.7" />
<line x1="253.9" y1="526.5" x2="253.9" y2="547" stroke="#111" stroke-width="0.7" />
<line x1="255.2" y1="526.5" x2="255.2" y2="547" stroke="#111" stroke-width="0.7" />
<line x1="263.4" y1="547" x2="263.4" y2="573.45" stroke="#111" stroke-width="1.0" />
<path d="M263.4,573.45 H200.7 V593.95 H263.4" fill="none" stroke="#111" stroke-width="1.0" />
<path d="M259.7,574.95 H202.3 V592.45 H259.7" fill="none" stroke="#111" stroke-width="0.8" />
<line x1="259.7" y1="573.45" x2="259.7" y2="593.95" stroke="#111" stroke-width="0.9" />
<line x1="258.4" y1="573.45" x2="258.4" y2="593.95" stroke="#111" stroke-width="0.6" />
<path d="M259.7,576.35 H264.2 Q266.2,576.35 266.2,578.35 V589.05 Q266.2,591.05 264.2,591.05 H259.7" fill="none" stroke="#111" stroke-width="0.9" />
<rect x="232.2" y="578.45" width="24.6" height="10.6" rx="5.3" fill="#9a9a9a" stroke="#111" stroke-width="1.3"/>
<rect x="234.6" y="580.45" width="20.6" height="6.6" rx="3.3" fill="none" stroke="#111" stroke-width="0.8"/>
<line x1="236.5" y1="583.75" x2="254" y2="583.75" stroke="#e4e4e4" stroke-width="1.6" />
<line x1="239.2" y1="573.45" x2="239.2" y2="593.95" stroke="#111" stroke-width="0.7" />
<line x1="240.7" y1="573.45" x2="240.7" y2="593.95" stroke="#111" stroke-width="0.7" />
<line x1="253.9" y1="573.45" x2="253.9" y2="593.95" stroke="#111" stroke-width="0.7" />
<line x1="255.2" y1="573.45" x2="255.2" y2="593.95" stroke="#111" stroke-width="0.7" />
<line x1="263.4" y1="593.95" x2="263.4" y2="620.4" stroke="#111" stroke-width="1.0" />
<path d="M263.4,620.4 H200.7 V640.9 H263.4" fill="none" stroke="#111" stroke-width="1.0" />
<path d="M259.7,621.9 H202.3 V639.4 H259.7" fill="none" stroke="#111" stroke-width="0.8" />
<line x1="259.7" y1="620.4" x2="259.7" y2="640.9" stroke="#111" stroke-width="0.9" />
<line x1="258.4" y1="620.4" x2="258.4" y2="640.9" stroke="#111" stroke-width="0.6" />
<path d="M259.7,623.3 H264.2 Q266.2,623.3 266.2,625.3 V636 Q266.2,638 264.2,638 H259.7" fill="none" stroke="#111" stroke-width="0.9" />
<rect x="232.2" y="625.4" width="24.6" height="10.6" rx="5.3" fill="#9a9a9a" stroke="#111" stroke-width="1.3"/>
<rect x="234.6" y="627.4" width="20.6" height="6.6" rx="3.3" fill="none" stroke="#111" stroke-width="0.8"/>
<line x1="236.5" y1="630.7" x2="254" y2="630.7" stroke="#e4e4e4" stroke-width="1.6" />
<line x1="239.2" y1="620.4" x2="239.2" y2="640.9" stroke="#111" stroke-width="0.7" />
<line x1="240.7" y1="620.4" x2="240.7" y2="640.9" stroke="#111" stroke-width="0.7" />
<line x1="253.9" y1="620.4" x2="253.9" y2="640.9" stroke="#111" stroke-width="0.7" />
<line x1="255.2" y1="620.4" x2="255.2" y2="640.9" stroke="#111" stroke-width="0.7" />
<line x1="263.4" y1="640.9" x2="263.4" y2="654.2" stroke="#111" stroke-width="1.0" />
<line x1="163.4" y1="294.1" x2="265.8" y2="294.1" stroke="#000" stroke-width="1.0" />
<polygon points="163.4,294.1 173.4,292.1 173.4,296.1" fill="#000"/>
<polygon points="265.8,294.1 255.8,296.1 255.8,292.1" fill="#000"/>
<line x1="163.4" y1="310.5" x2="263.5" y2="310.5" stroke="#000" stroke-width="1.0" />
<polygon points="163.4,310.5 173.4,308.5 173.4,312.5" fill="#000"/>
<polygon points="263.5,310.5 253.5,312.5 253.5,308.5" fill="#000"/>
<line x1="163.4" y1="288.9" x2="163.4" y2="321.1" stroke="#000" stroke-width="1.0" />
<line x1="265.8" y1="288.9" x2="265.8" y2="339.4" stroke="#000" stroke-width="1.0" />
<line x1="263.5" y1="305.7" x2="263.5" y2="321.1" stroke="#000" stroke-width="1.0" />
<text x="191" y="291.6" font-size="14.2" font-family="'Liberation Sans', sans-serif" text-anchor="start" fill="#000" textLength="47.3" lengthAdjust="spacingAndGlyphs" >5.5±0.3</text>
<text x="200.3" y="308.2" font-size="14.2" font-family="'Liberation Sans', sans-serif" text-anchor="start" fill="#000" textLength="26" lengthAdjust="spacingAndGlyphs" >5.30</text>
<line x1="145.7" y1="325.9" x2="145.7" y2="654.2" stroke="#000" stroke-width="1.0" />
<polygon points="145.7,325.9 147.7,335.9 143.7,335.9" fill="#000"/>
<polygon points="145.7,654.2 143.7,644.2 147.7,644.2" fill="#000"/>
<line x1="140.9" y1="325.9" x2="159.2" y2="325.9" stroke="#000" stroke-width="1.0" />
<line x1="140.9" y1="654.2" x2="159.2" y2="654.2" stroke="#000" stroke-width="1.0" />
<text transform="translate(144.3,507.5) rotate(-90)" font-size="14.2" font-family="'Liberation Sans', sans-serif" fill="#000" textLength="34.5" lengthAdjust="spacingAndGlyphs" >17.50</text>
<line x1="294.2" y1="323" x2="294.2" y2="404" stroke="#000" stroke-width="1.0" />
<polygon points="294.2,341.7 292.2,331.7 296.2,331.7" fill="#000"/>
<polygon points="294.2,356.4 296.2,366.4 292.2,366.4" fill="#000"/>
<line x1="267.8" y1="341.7" x2="299" y2="341.7" stroke="#000" stroke-width="1.0" />
<line x1="267.8" y1="356.4" x2="299" y2="356.4" stroke="#000" stroke-width="1.0" />
<text transform="translate(292.3,403.1) rotate(-90)" font-size="14.2" font-family="'Liberation Sans', sans-serif" fill="#000" textLength="26.1" lengthAdjust="spacingAndGlyphs" >0.80</text>
<rect x="486.2" y="329.4" width="66.3" height="328.1" fill="none" stroke="#111" stroke-width="1.0" />
<rect x="512.4" y="338.5" width="35.6" height="29.1" fill="none" stroke="#111" stroke-width="1.1" />
<rect x="513.7" y="339.8" width="33.1" height="26.5" fill="none" stroke="#444" stroke-width="0.7" />
<rect x="513.7" y="341.6" width="27.8" height="22.8" fill="none" stroke="#111" stroke-width="0.9" />
<line x1="541.5" y1="338.5" x2="541.5" y2="367.6" stroke="#111" stroke-width="0.8" />
<rect x="542.9" y="343.2" width="4.3" height="19.6" fill="none" stroke="#111" stroke-width="0.8" />
<line x1="541.5" y1="341.6" x2="548" y2="341.6" stroke="#111" stroke-width="0.7" />
<line x1="541.5" y1="364.4" x2="548" y2="364.4" stroke="#111" stroke-width="0.7" />
<line x1="543.6" y1="338.5" x2="543.6" y2="341.6" stroke="#111" stroke-width="0.6" />
<line x1="543.6" y1="364.4" x2="543.6" y2="367.6" stroke="#111" stroke-width="0.6" />
<line x1="485.7" y1="345.7" x2="485.7" y2="361" stroke="#111" stroke-width="1.9" />
<path d="M552.5,343.3 H585.7 V362.4 H552.5" fill="none" stroke="#111" stroke-width="1.0" />
<line x1="582.2" y1="343.3" x2="582.2" y2="362.4" stroke="#111" stroke-width="0.8" />
<line x1="584.1" y1="343.3" x2="584.1" y2="362.4" stroke="#111" stroke-width="0.6" />
<path d="M586.4,348.25 H579.9 A4.6,4.6 0 0 0 579.9,357.45 H586.4 Z" fill="#8c8c8c" stroke="#111" stroke-width="1.2" />
<path d="M585,349.95 H580.3 A2.9,2.9 0 0 0 580.3,355.75 H585" fill="none" stroke="#111" stroke-width="0.7" />
<rect x="578.9" y="351.45" width="5.7" height="2.8" fill="#f4f4f4" stroke="#555" stroke-width="0.5" />
<line x1="582.2" y1="348.25" x2="582.2" y2="357.45" stroke="#111" stroke-width="0.7" />
<rect x="512.4" y="385.4" width="35.6" height="29.1" fill="none" stroke="#111" stroke-width="1.1" />
<rect x="513.7" y="386.7" width="33.1" height="26.5" fill="none" stroke="#444" stroke-width="0.7" />
<rect x="513.7" y="388.5" width="27.8" height="22.8" fill="none" stroke="#111" stroke-width="0.9" />
<line x1="541.5" y1="385.4" x2="541.5" y2="414.5" stroke="#111" stroke-width="0.8" />
<rect x="542.9" y="390.1" width="4.3" height="19.6" fill="none" stroke="#111" stroke-width="0.8" />
<line x1="541.5" y1="388.5" x2="548" y2="388.5" stroke="#111" stroke-width="0.7" />
<line x1="541.5" y1="411.3" x2="548" y2="411.3" stroke="#111" stroke-width="0.7" />
<line x1="543.6" y1="385.4" x2="543.6" y2="388.5" stroke="#111" stroke-width="0.6" />
<line x1="543.6" y1="411.3" x2="543.6" y2="414.5" stroke="#111" stroke-width="0.6" />
<line x1="485.7" y1="392.6" x2="485.7" y2="407.9" stroke="#111" stroke-width="1.9" />
<path d="M552.5,390.2 H585.7 V409.3 H552.5" fill="none" stroke="#111" stroke-width="1.0" />
<line x1="582.2" y1="390.2" x2="582.2" y2="409.3" stroke="#111" stroke-width="0.8" />
<line x1="584.1" y1="390.2" x2="584.1" y2="409.3" stroke="#111" stroke-width="0.6" />
<path d="M586.4,395.15 H579.9 A4.6,4.6 0 0 0 579.9,404.35 H586.4 Z" fill="#8c8c8c" stroke="#111" stroke-width="1.2" />
<path d="M585,396.85 H580.3 A2.9,2.9 0 0 0 580.3,402.65 H585" fill="none" stroke="#111" stroke-width="0.7" />
<rect x="578.9" y="398.35" width="5.7" height="2.8" fill="#f4f4f4" stroke="#555" stroke-width="0.5" />
<line x1="582.2" y1="395.15" x2="582.2" y2="404.35" stroke="#111" stroke-width="0.7" />
<rect x="512.4" y="432.3" width="35.6" height="29.1" fill="none" stroke="#111" stroke-width="1.1" />
<rect x="513.7" y="433.6" width="33.1" height="26.5" fill="none" stroke="#444" stroke-width="0.7" />
<rect x="513.7" y="435.4" width="27.8" height="22.8" fill="none" stroke="#111" stroke-width="0.9" />
<line x1="541.5" y1="432.3" x2="541.5" y2="461.4" stroke="#111" stroke-width="0.8" />
<rect x="542.9" y="437" width="4.3" height="19.6" fill="none" stroke="#111" stroke-width="0.8" />
<line x1="541.5" y1="435.4" x2="548" y2="435.4" stroke="#111" stroke-width="0.7" />
<line x1="541.5" y1="458.2" x2="548" y2="458.2" stroke="#111" stroke-width="0.7" />
<line x1="543.6" y1="432.3" x2="543.6" y2="435.4" stroke="#111" stroke-width="0.6" />
<line x1="543.6" y1="458.2" x2="543.6" y2="461.4" stroke="#111" stroke-width="0.6" />
<line x1="485.7" y1="439.5" x2="485.7" y2="454.8" stroke="#111" stroke-width="1.9" />
<path d="M552.5,437.1 H585.7 V456.2 H552.5" fill="none" stroke="#111" stroke-width="1.0" />
<line x1="582.2" y1="437.1" x2="582.2" y2="456.2" stroke="#111" stroke-width="0.8" />
<line x1="584.1" y1="437.1" x2="584.1" y2="456.2" stroke="#111" stroke-width="0.6" />
<path d="M586.4,442.05 H579.9 A4.6,4.6 0 0 0 579.9,451.25 H586.4 Z" fill="#8c8c8c" stroke="#111" stroke-width="1.2" />
<path d="M585,443.75 H580.3 A2.9,2.9 0 0 0 580.3,449.55 H585" fill="none" stroke="#111" stroke-width="0.7" />
<rect x="578.9" y="445.25" width="5.7" height="2.8" fill="#f4f4f4" stroke="#555" stroke-width="0.5" />
<line x1="582.2" y1="442.05" x2="582.2" y2="451.25" stroke="#111" stroke-width="0.7" />
<rect x="512.4" y="479.2" width="35.6" height="29.1" fill="none" stroke="#111" stroke-width="1.1" />
<rect x="513.7" y="480.5" width="33.1" height="26.5" fill="none" stroke="#444" stroke-width="0.7" />
<rect x="513.7" y="482.3" width="27.8" height="22.8" fill="none" stroke="#111" stroke-width="0.9" />
<line x1="541.5" y1="479.2" x2="541.5" y2="508.3" stroke="#111" stroke-width="0.8" />
<rect x="542.9" y="483.9" width="4.3" height="19.6" fill="none" stroke="#111" stroke-width="0.8" />
<line x1="541.5" y1="482.3" x2="548" y2="482.3" stroke="#111" stroke-width="0.7" />
<line x1="541.5" y1="505.1" x2="548" y2="505.1" stroke="#111" stroke-width="0.7" />
<line x1="543.6" y1="479.2" x2="543.6" y2="482.3" stroke="#111" stroke-width="0.6" />
<line x1="543.6" y1="505.1" x2="543.6" y2="508.3" stroke="#111" stroke-width="0.6" />
<line x1="485.7" y1="486.4" x2="485.7" y2="501.7" stroke="#111" stroke-width="1.9" />
<path d="M552.5,484 H585.7 V503.1 H552.5" fill="none" stroke="#111" stroke-width="1.0" />
<line x1="582.2" y1="484" x2="582.2" y2="503.1" stroke="#111" stroke-width="0.8" />
<line x1="584.1" y1="484" x2="584.1" y2="503.1" stroke="#111" stroke-width="0.6" />
<path d="M586.4,488.95 H579.9 A4.6,4.6 0 0 0 579.9,498.15 H586.4 Z" fill="#8c8c8c" stroke="#111" stroke-width="1.2" />
<path d="M585,490.65 H580.3 A2.9,2.9 0 0 0 580.3,496.45 H585" fill="none" stroke="#111" stroke-width="0.7" />
<rect x="578.9" y="492.15" width="5.7" height="2.8" fill="#f4f4f4" stroke="#555" stroke-width="0.5" />
<line x1="582.2" y1="488.95" x2="582.2" y2="498.15" stroke="#111" stroke-width="0.7" />
<rect x="512.4" y="526.1" width="35.6" height="29.1" fill="none" stroke="#111" stroke-width="1.1" />
<rect x="513.7" y="527.4" width="33.1" height="26.5" fill="none" stroke="#444" stroke-width="0.7" />
<rect x="513.7" y="529.2" width="27.8" height="22.8" fill="none" stroke="#111" stroke-width="0.9" />
<line x1="541.5" y1="526.1" x2="541.5" y2="555.2" stroke="#111" stroke-width="0.8" />
<rect x="542.9" y="530.8" width="4.3" height="19.6" fill="none" stroke="#111" stroke-width="0.8" />
<line x1="541.5" y1="529.2" x2="548" y2="529.2" stroke="#111" stroke-width="0.7" />
<line x1="541.5" y1="552" x2="548" y2="552" stroke="#111" stroke-width="0.7" />
<line x1="543.6" y1="526.1" x2="543.6" y2="529.2" stroke="#111" stroke-width="0.6" />
<line x1="543.6" y1="552" x2="543.6" y2="555.2" stroke="#111" stroke-width="0.6" />
<line x1="485.7" y1="533.3" x2="485.7" y2="548.6" stroke="#111" stroke-width="1.9" />
<path d="M552.5,530.9 H585.7 V550 H552.5" fill="none" stroke="#111" stroke-width="1.0" />
<line x1="582.2" y1="530.9" x2="582.2" y2="550" stroke="#111" stroke-width="0.8" />
<line x1="584.1" y1="530.9" x2="584.1" y2="550" stroke="#111" stroke-width="0.6" />
<path d="M586.4,535.85 H579.9 A4.6,4.6 0 0 0 579.9,545.05 H586.4 Z" fill="#8c8c8c" stroke="#111" stroke-width="1.2" />
<path d="M585,537.55 H580.3 A2.9,2.9 0 0 0 580.3,543.35 H585" fill="none" stroke="#111" stroke-width="0.7" />
<rect x="578.9" y="539.05" width="5.7" height="2.8" fill="#f4f4f4" stroke="#555" stroke-width="0.5" />
<line x1="582.2" y1="535.85" x2="582.2" y2="545.05" stroke="#111" stroke-width="0.7" />
<rect x="512.4" y="573" width="35.6" height="29.1" fill="none" stroke="#111" stroke-width="1.1" />
<rect x="513.7" y="574.3" width="33.1" height="26.5" fill="none" stroke="#444" stroke-width="0.7" />
<rect x="513.7" y="576.1" width="27.8" height="22.8" fill="none" stroke="#111" stroke-width="0.9" />
<line x1="541.5" y1="573" x2="541.5" y2="602.1" stroke="#111" stroke-width="0.8" />
<rect x="542.9" y="577.7" width="4.3" height="19.6" fill="none" stroke="#111" stroke-width="0.8" />
<line x1="541.5" y1="576.1" x2="548" y2="576.1" stroke="#111" stroke-width="0.7" />
<line x1="541.5" y1="598.9" x2="548" y2="598.9" stroke="#111" stroke-width="0.7" />
<line x1="543.6" y1="573" x2="543.6" y2="576.1" stroke="#111" stroke-width="0.6" />
<line x1="543.6" y1="598.9" x2="543.6" y2="602.1" stroke="#111" stroke-width="0.6" />
<line x1="485.7" y1="580.2" x2="485.7" y2="595.5" stroke="#111" stroke-width="1.9" />
<path d="M552.5,577.8 H585.7 V596.9 H552.5" fill="none" stroke="#111" stroke-width="1.0" />
<line x1="582.2" y1="577.8" x2="582.2" y2="596.9" stroke="#111" stroke-width="0.8" />
<line x1="584.1" y1="577.8" x2="584.1" y2="596.9" stroke="#111" stroke-width="0.6" />
<path d="M586.4,582.75 H579.9 A4.6,4.6 0 0 0 579.9,591.95 H586.4 Z" fill="#8c8c8c" stroke="#111" stroke-width="1.2" />
<path d="M585,584.45 H580.3 A2.9,2.9 0 0 0 580.3,590.25 H585" fill="none" stroke="#111" stroke-width="0.7" />
<rect x="578.9" y="585.95" width="5.7" height="2.8" fill="#f4f4f4" stroke="#555" stroke-width="0.5" />
<line x1="582.2" y1="582.75" x2="582.2" y2="591.95" stroke="#111" stroke-width="0.7" />
<rect x="512.4" y="619.9" width="35.6" height="29.1" fill="none" stroke="#111" stroke-width="1.1" />
<rect x="513.7" y="621.2" width="33.1" height="26.5" fill="none" stroke="#444" stroke-width="0.7" />
<rect x="513.7" y="623" width="27.8" height="22.8" fill="none" stroke="#111" stroke-width="0.9" />
<line x1="541.5" y1="619.9" x2="541.5" y2="649" stroke="#111" stroke-width="0.8" />
<rect x="542.9" y="624.6" width="4.3" height="19.6" fill="none" stroke="#111" stroke-width="0.8" />
<line x1="541.5" y1="623" x2="548" y2="623" stroke="#111" stroke-width="0.7" />
<line x1="541.5" y1="645.8" x2="548" y2="645.8" stroke="#111" stroke-width="0.7" />
<line x1="543.6" y1="619.9" x2="543.6" y2="623" stroke="#111" stroke-width="0.6" />
<line x1="543.6" y1="645.8" x2="543.6" y2="649" stroke="#111" stroke-width="0.6" />
<line x1="485.7" y1="627.1" x2="485.7" y2="642.4" stroke="#111" stroke-width="1.9" />
<path d="M552.5,624.7 H585.7 V643.8 H552.5" fill="none" stroke="#111" stroke-width="1.0" />
<line x1="582.2" y1="624.7" x2="582.2" y2="643.8" stroke="#111" stroke-width="0.8" />
<line x1="584.1" y1="624.7" x2="584.1" y2="643.8" stroke="#111" stroke-width="0.6" />
<path d="M586.4,629.65 H579.9 A4.6,4.6 0 0 0 579.9,638.85 H586.4 Z" fill="#8c8c8c" stroke="#111" stroke-width="1.2" />
<path d="M585,631.35 H580.3 A2.9,2.9 0 0 0 580.3,637.15 H585" fill="none" stroke="#111" stroke-width="0.7" />
<rect x="578.9" y="632.85" width="5.7" height="2.8" fill="#f4f4f4" stroke="#555" stroke-width="0.5" />
<line x1="582.2" y1="629.65" x2="582.2" y2="638.85" stroke="#111" stroke-width="0.7" />
<path d="M486.2,367.9 H474.4 Q471.5,368.4 471.5,371.6 V381.6 Q471.5,384.8 474.4,385.3 H486.2" fill="none" stroke="#111" stroke-width="1.0" />
<path d="M474.4,367.9 Q472.8,376.6 474.4,385.3" fill="none" stroke="#111" stroke-width="0.7" />
<path d="M486.2,602.2 H474.4 Q471.5,602.7 471.5,605.9 V615.9 Q471.5,619.1 474.4,619.6 H486.2" fill="none" stroke="#111" stroke-width="1.0" />
<path d="M474.4,602.2 Q472.8,610.9 474.4,619.6" fill="none" stroke="#111" stroke-width="0.7" />
<rect x="486.2" y="410.3" width="2.9" height="26" fill="none" stroke="#111" stroke-width="0.9" />
<rect x="485.4" y="418.4" width="40.2" height="9.8" fill="#fff" stroke="#111" stroke-width="1.7" />
<path d="M487,421.3 H522.4 V425.3 H487" fill="none" stroke="#111" stroke-width="0.8" />
<line x1="506.2" y1="418.4" x2="506.2" y2="421.3" stroke="#111" stroke-width="0.8" />
<line x1="516" y1="418.4" x2="516" y2="421.3" stroke="#111" stroke-width="0.8" />
<line x1="506.2" y1="425.3" x2="506.2" y2="428.2" stroke="#111" stroke-width="0.8" />
<line x1="516" y1="425.3" x2="516" y2="428.2" stroke="#111" stroke-width="0.8" />
<rect x="486.2" y="550.9" width="2.9" height="26" fill="none" stroke="#111" stroke-width="0.9" />
<rect x="485.4" y="559" width="40.2" height="9.8" fill="#fff" stroke="#111" stroke-width="1.7" />
<path d="M487,561.9 H522.4 V565.9 H487" fill="none" stroke="#111" stroke-width="0.8" />
<line x1="506.2" y1="559" x2="506.2" y2="561.9" stroke="#111" stroke-width="0.8" />
<line x1="516" y1="559" x2="516" y2="561.9" stroke="#111" stroke-width="0.8" />
<line x1="506.2" y1="565.9" x2="506.2" y2="568.8" stroke="#111" stroke-width="0.8" />
<line x1="516" y1="565.9" x2="516" y2="568.8" stroke="#111" stroke-width="0.8" />
<line x1="441.6" y1="324.5" x2="441.6" y2="403" stroke="#000" stroke-width="1.0" />
<polygon points="441.6,367.5 439.6,357.5 443.6,357.5" fill="#000"/>
<polygon points="441.6,385.7 443.6,395.7 439.6,395.7" fill="#000"/>
<line x1="437.4" y1="367.9" x2="469.8" y2="367.9" stroke="#000" stroke-width="1.0" />
<line x1="437.4" y1="385.3" x2="469.8" y2="385.3" stroke="#000" stroke-width="1.0" />
<text transform="translate(439.7,343.6) rotate(-90)" font-size="14.2" font-family="'Liberation Sans', sans-serif" fill="#000" textLength="17.4" lengthAdjust="spacingAndGlyphs" >1.0</text>
<line x1="433.9" y1="360" x2="516" y2="360" stroke="#000" stroke-width="1.0" />
<polygon points="453,360 442,362 442,358" fill="#000"/>
<polygon points="468,360 478,358 478,362" fill="#000"/>
<line x1="453" y1="355.1" x2="453" y2="366.7" stroke="#000" stroke-width="1.0" />
<line x1="468" y1="355" x2="468" y2="358" stroke="#000" stroke-width="1.0" />
<text x="488.3" y="358" font-size="14.2" font-family="'Liberation Sans', sans-serif" text-anchor="start" fill="#000" textLength="25.5" lengthAdjust="spacingAndGlyphs" >0.80</text>
<line x1="430.6" y1="376.6" x2="430.6" y2="610.9" stroke="#000" stroke-width="1.0" />
<polygon points="430.6,376.6 432.6,386.6 428.6,386.6" fill="#000"/>
<polygon points="430.6,610.9 428.6,600.9 432.6,600.9" fill="#000"/>
<line x1="425.8" y1="376.6" x2="467.2" y2="376.6" stroke="#000" stroke-width="1.0" />
<line x1="425.4" y1="610.9" x2="466.9" y2="610.9" stroke="#000" stroke-width="1.0" />
<text transform="translate(429.3,511) rotate(-90)" font-size="14.2" font-family="'Liberation Sans', sans-serif" fill="#000" textLength="34" lengthAdjust="spacingAndGlyphs" >12.50</text>
<line x1="451.8" y1="423.3" x2="451.8" y2="563.9" stroke="#000" stroke-width="1.0" />
<polygon points="451.8,423.3 453.8,433.3 449.8,433.3" fill="#000"/>
<polygon points="451.8,563.9 449.8,553.9 453.8,553.9" fill="#000"/>
<line x1="447.2" y1="423.3" x2="481.3" y2="423.3" stroke="#000" stroke-width="1.0" />
<line x1="446.9" y1="563.9" x2="481" y2="563.9" stroke="#000" stroke-width="1.0" />
<text transform="translate(449.5,505.4) rotate(-90)" font-size="14.2" font-family="'Liberation Sans', sans-serif" fill="#000" textLength="24.6" lengthAdjust="spacingAndGlyphs" >7.50</text>
<line x1="471.5" y1="402.2" x2="471.5" y2="472.8" stroke="#000" stroke-width="1.0" />
<polygon points="471.5,421.3 469.5,412.3 473.5,412.3" fill="#000"/>
<polygon points="471.5,425.3 473.5,434.3 469.5,434.3" fill="#000"/>
<line x1="466.3" y1="421.3" x2="481.3" y2="421.3" stroke="#000" stroke-width="0.8" />
<line x1="466.3" y1="425.3" x2="481.3" y2="425.3" stroke="#000" stroke-width="0.8" />
<text transform="translate(470,471) rotate(-90)" font-size="14.2" font-family="'Liberation Sans', sans-serif" fill="#000" textLength="25.4" lengthAdjust="spacingAndGlyphs" >0.20</text>
<line x1="611.8" y1="352.7" x2="611.8" y2="493.9" stroke="#000" stroke-width="1.0" />
<line x1="590.9" y1="352.7" x2="615.9" y2="352.7" stroke="#000" stroke-width="1.0" />
<polygon points="611.8,352.7 613.8,362.7 609.8,362.7" fill="#000"/>
<line x1="590.9" y1="399.65" x2="615.9" y2="399.65" stroke="#000" stroke-width="1.0" />
<polygon points="611.8,399.65 609.8,389.65 613.8,389.65" fill="#000"/>
<polygon points="611.8,399.65 613.8,409.65 609.8,409.65" fill="#000"/>
<line x1="597.4" y1="397.15" x2="597.4" y2="402.15" stroke="#000" stroke-width="1.0" />
<line x1="590.9" y1="446.6" x2="615.9" y2="446.6" stroke="#000" stroke-width="1.0" />
<polygon points="611.8,446.6 609.8,436.6 613.8,436.6" fill="#000"/>
<polygon points="611.8,446.6 613.8,456.6 609.8,456.6" fill="#000"/>
<line x1="597.4" y1="444.1" x2="597.4" y2="449.1" stroke="#000" stroke-width="1.0" />
<line x1="590.9" y1="493.55" x2="615.9" y2="493.55" stroke="#000" stroke-width="1.0" />
<polygon points="611.8,493.55 609.8,483.55 613.8,483.55" fill="#000"/>
<text transform="translate(609.4,387.9) rotate(-90)" font-size="14.2" font-family="'Liberation Sans', sans-serif" fill="#000" textLength="24.3" lengthAdjust="spacingAndGlyphs" >2.50</text>
<text transform="translate(609.4,435.3) rotate(-90)" font-size="14.2" font-family="'Liberation Sans', sans-serif" fill="#000" textLength="24.3" lengthAdjust="spacingAndGlyphs" >2.50</text>
<text transform="translate(609.4,482.8) rotate(-90)" font-size="14.2" font-family="'Liberation Sans', sans-serif" fill="#000" textLength="25.5" lengthAdjust="spacingAndGlyphs" >2.50</text>
<rect x="841.8" y="249.1" width="99.5" height="328" fill="none" stroke="#000" stroke-width="1" stroke-dasharray="11.5 5.6"/>
<rect x="915.8" y="259.3" width="38.1" height="26.4" fill="#fff" stroke="none"/>
<rect x="915.8" y="306.3" width="38.1" height="26.4" fill="#fff" stroke="none"/>
<rect x="915.8" y="353.3" width="38.1" height="26.4" fill="#fff" stroke="none"/>
<rect x="915.8" y="400.3" width="38.1" height="26.4" fill="#fff" stroke="none"/>
<rect x="915.8" y="447.3" width="38.1" height="26.4" fill="#fff" stroke="none"/>
<rect x="915.8" y="494.3" width="38.1" height="26.4" fill="#fff" stroke="none"/>
<rect x="915.8" y="541.3" width="38.1" height="26.4" fill="#fff" stroke="none"/>
<rect x="832.4" y="333.2" width="38" height="19.2" fill="#fff" stroke="none"/>
<rect x="832.4" y="474" width="38" height="19.2" fill="#fff" stroke="none"/>
<clipPath id="cpA"><rect x="915.8" y="259.3" width="38.1" height="26.4"/><rect x="915.8" y="306.3" width="38.1" height="26.4"/><rect x="915.8" y="353.3" width="38.1" height="26.4"/><rect x="915.8" y="400.3" width="38.1" height="26.4"/><rect x="915.8" y="447.3" width="38.1" height="26.4"/><rect x="915.8" y="494.3" width="38.1" height="26.4"/><rect x="915.8" y="541.3" width="38.1" height="26.4"/></clipPath>
<path clip-path="url(#cpA)" d="M607.4,567.7L915.8,259.3M609.86,567.7L918.26,259.3M612.32,567.7L920.72,259.3M614.78,567.7L923.18,259.3M617.24,567.7L925.64,259.3M619.7,567.7L928.1,259.3M622.16,567.7L930.56,259.3M624.62,567.7L933.02,259.3M627.08,567.7L935.48,259.3M629.54,567.7L937.94,259.3M632,567.7L940.4,259.3M634.46,567.7L942.86,259.3M636.92,567.7L945.32,259.3M639.38,567.7L947.78,259.3M641.84,567.7L950.24,259.3M644.3,567.7L952.7,259.3M646.76,567.7L955.16,259.3M649.22,567.7L957.62,259.3M651.68,567.7L960.08,259.3M654.14,567.7L962.54,259.3M656.6,567.7L965,259.3M659.06,567.7L967.46,259.3M661.52,567.7L969.92,259.3M663.98,567.7L972.38,259.3M666.44,567.7L974.84,259.3M668.9,567.7L977.3,259.3M671.36,567.7L979.76,259.3M673.82,567.7L982.22,259.3M676.28,567.7L984.68,259.3M678.74,567.7L987.14,259.3M681.2,567.7L989.6,259.3M683.66,567.7L992.06,259.3M686.12,567.7L994.52,259.3M688.58,567.7L996.98,259.3M691.04,567.7L999.44,259.3M693.5,567.7L1001.9,259.3M695.96,567.7L1004.36,259.3M698.42,567.7L1006.82,259.3M700.88,567.7L1009.28,259.3M703.34,567.7L1011.74,259.3M705.8,567.7L1014.2,259.3M708.26,567.7L1016.66,259.3M710.72,567.7L1019.12,259.3M713.18,567.7L1021.58,259.3M715.64,567.7L1024.04,259.3M718.1,567.7L1026.5,259.3M720.56,567.7L1028.96,259.3M723.02,567.7L1031.42,259.3M725.48,567.7L1033.88,259.3M727.94,567.7L1036.34,259.3M730.4,567.7L1038.8,259.3M732.86,567.7L1041.26,259.3M735.32,567.7L1043.72,259.3M737.78,567.7L1046.18,259.3M740.24,567.7L1048.64,259.3M742.7,567.7L1051.1,259.3M745.16,567.7L1053.56,259.3M747.62,567.7L1056.02,259.3M750.08,567.7L1058.48,259.3M752.54,567.7L1060.94,259.3M755,567.7L1063.4,259.3M757.46,567.7L1065.86,259.3M759.92,567.7L1068.32,259.3M762.38,567.7L1070.78,259.3M764.84,567.7L1073.24,259.3M767.3,567.7L1075.7,259.3M769.76,567.7L1078.16,259.3M772.22,567.7L1080.62,259.3M774.68,567.7L1083.08,259.3M777.14,567.7L1085.54,259.3M779.6,567.7L1088,259.3M782.06,567.7L1090.46,259.3M784.52,567.7L1092.92,259.3M786.98,567.7L1095.38,259.3M789.44,567.7L1097.84,259.3M791.9,567.7L1100.3,259.3M794.36,567.7L1102.76,259.3M796.82,567.7L1105.22,259.3M799.28,567.7L1107.68,259.3M801.74,567.7L1110.14,259.3M804.2,567.7L1112.6,259.3M806.66,567.7L1115.06,259.3M809.12,567.7L1117.52,259.3M811.58,567.7L1119.98,259.3M814.04,567.7L1122.44,259.3M816.5,567.7L1124.9,259.3M818.96,567.7L1127.36,259.3M821.42,567.7L1129.82,259.3M823.88,567.7L1132.28,259.3M826.34,567.7L1134.74,259.3M828.8,567.7L1137.2,259.3M831.26,567.7L1139.66,259.3M833.72,567.7L1142.12,259.3M836.18,567.7L1144.58,259.3M838.64,567.7L1147.04,259.3M841.1,567.7L1149.5,259.3M843.56,567.7L1151.96,259.3M846.02,567.7L1154.42,259.3M848.48,567.7L1156.88,259.3M850.94,567.7L1159.34,259.3M853.4,567.7L1161.8,259.3M855.86,567.7L1164.26,259.3M858.32,567.7L1166.72,259.3M860.78,567.7L1169.18,259.3M863.24,567.7L1171.64,259.3M865.7,567.7L1174.1,259.3M868.16,567.7L1176.56,259.3M870.62,567.7L1179.02,259.3M873.08,567.7L1181.48,259.3M875.54,567.7L1183.94,259.3M878,567.7L1186.4,259.3M880.46,567.7L1188.86,259.3M882.92,567.7L1191.32,259.3M885.38,567.7L1193.78,259.3M887.84,567.7L1196.24,259.3M890.3,567.7L1198.7,259.3M892.76,567.7L1201.16,259.3M895.22,567.7L1203.62,259.3M897.68,567.7L1206.08,259.3M900.14,567.7L1208.54,259.3M902.6,567.7L1211,259.3M905.06,567.7L1213.46,259.3M907.52,567.7L1215.92,259.3M909.98,567.7L1218.38,259.3M912.44,567.7L1220.84,259.3M914.9,567.7L1223.3,259.3M917.36,567.7L1225.76,259.3M919.82,567.7L1228.22,259.3M922.28,567.7L1230.68,259.3M924.74,567.7L1233.14,259.3M927.2,567.7L1235.6,259.3M929.66,567.7L1238.06,259.3M932.12,567.7L1240.52,259.3M934.58,567.7L1242.98,259.3M937.04,567.7L1245.44,259.3M939.5,567.7L1247.9,259.3M941.96,567.7L1250.36,259.3M944.42,567.7L1252.82,259.3M946.88,567.7L1255.28,259.3M949.34,567.7L1257.74,259.3M951.8,567.7L1260.2,259.3" stroke="#000" stroke-width="0.9" fill="none"/>
<clipPath id="cpB"><rect x="832.4" y="333.2" width="38" height="19.2"/><rect x="832.4" y="474" width="38" height="19.2"/></clipPath>
<path clip-path="url(#cpB)" d="M672.4,493.2L832.4,333.2M674.86,493.2L834.86,333.2M677.32,493.2L837.32,333.2M679.78,493.2L839.78,333.2M682.24,493.2L842.24,333.2M684.7,493.2L844.7,333.2M687.16,493.2L847.16,333.2M689.62,493.2L849.62,333.2M692.08,493.2L852.08,333.2M694.54,493.2L854.54,333.2M697,493.2L857,333.2M699.46,493.2L859.46,333.2M701.92,493.2L861.92,333.2M704.38,493.2L864.38,333.2M706.84,493.2L866.84,333.2M709.3,493.2L869.3,333.2M711.76,493.2L871.76,333.2M714.22,493.2L874.22,333.2M716.68,493.2L876.68,333.2M719.14,493.2L879.14,333.2M721.6,493.2L881.6,333.2M724.06,493.2L884.06,333.2M726.52,493.2L886.52,333.2M728.98,493.2L888.98,333.2M731.44,493.2L891.44,333.2M733.9,493.2L893.9,333.2M736.36,493.2L896.36,333.2M738.82,493.2L898.82,333.2M741.28,493.2L901.28,333.2M743.74,493.2L903.74,333.2M746.2,493.2L906.2,333.2M748.66,493.2L908.66,333.2M751.12,493.2L911.12,333.2M753.58,493.2L913.58,333.2M756.04,493.2L916.04,333.2M758.5,493.2L918.5,333.2M760.96,493.2L920.96,333.2M763.42,493.2L923.42,333.2M765.88,493.2L925.88,333.2M768.34,493.2L928.34,333.2M770.8,493.2L930.8,333.2M773.26,493.2L933.26,333.2M775.72,493.2L935.72,333.2M778.18,493.2L938.18,333.2M780.64,493.2L940.64,333.2M783.1,493.2L943.1,333.2M785.56,493.2L945.56,333.2M788.02,493.2L948.02,333.2M790.48,493.2L950.48,333.2M792.94,493.2L952.94,333.2M795.4,493.2L955.4,333.2M797.86,493.2L957.86,333.2M800.32,493.2L960.32,333.2M802.78,493.2L962.78,333.2M805.24,493.2L965.24,333.2M807.7,493.2L967.7,333.2M810.16,493.2L970.16,333.2M812.62,493.2L972.62,333.2M815.08,493.2L975.08,333.2M817.54,493.2L977.54,333.2M820,493.2L980,333.2M822.46,493.2L982.46,333.2M824.92,493.2L984.92,333.2M827.38,493.2L987.38,333.2M829.84,493.2L989.84,333.2M832.3,493.2L992.3,333.2M834.76,493.2L994.76,333.2M837.22,493.2L997.22,333.2M839.68,493.2L999.68,333.2M842.14,493.2L1002.14,333.2M844.6,493.2L1004.6,333.2M847.06,493.2L1007.06,333.2M849.52,493.2L1009.52,333.2M851.98,493.2L1011.98,333.2M854.44,493.2L1014.44,333.2M856.9,493.2L1016.9,333.2M859.36,493.2L1019.36,333.2M861.82,493.2L1021.82,333.2M864.28,493.2L1024.28,333.2M866.74,493.2L1026.74,333.2M869.2,493.2L1029.2,333.2" stroke="#000" stroke-width="0.9" fill="none"/>
<rect x="915.8" y="259.3" width="38.1" height="26.4" fill="none" stroke="#000" stroke-width="1.1" />
<path d="M937.4,262.1 H940.6 A4.2,4.2 0 0 1 944.8,266.3 V278.7 A4.2,4.2 0 0 1 940.6,282.9 H937.4 Z" fill="none" stroke="#222" stroke-width="0.9" />
<rect x="915.8" y="306.3" width="38.1" height="26.4" fill="none" stroke="#000" stroke-width="1.1" />
<path d="M937.4,309.1 H940.6 A4.2,4.2 0 0 1 944.8,313.3 V325.7 A4.2,4.2 0 0 1 940.6,329.9 H937.4 Z" fill="none" stroke="#222" stroke-width="0.9" />
<rect x="915.8" y="353.3" width="38.1" height="26.4" fill="none" stroke="#000" stroke-width="1.1" />
<path d="M937.4,356.1 H940.6 A4.2,4.2 0 0 1 944.8,360.3 V372.7 A4.2,4.2 0 0 1 940.6,376.9 H937.4 Z" fill="none" stroke="#222" stroke-width="0.9" />
<rect x="915.8" y="400.3" width="38.1" height="26.4" fill="none" stroke="#000" stroke-width="1.1" />
<path d="M937.4,403.1 H940.6 A4.2,4.2 0 0 1 944.8,407.3 V419.7 A4.2,4.2 0 0 1 940.6,423.9 H937.4 Z" fill="none" stroke="#222" stroke-width="0.9" />
<rect x="915.8" y="447.3" width="38.1" height="26.4" fill="none" stroke="#000" stroke-width="1.1" />
<path d="M937.4,450.1 H940.6 A4.2,4.2 0 0 1 944.8,454.3 V466.7 A4.2,4.2 0 0 1 940.6,470.9 H937.4 Z" fill="none" stroke="#222" stroke-width="0.9" />
<rect x="915.8" y="494.3" width="38.1" height="26.4" fill="none" stroke="#000" stroke-width="1.1" />
<path d="M937.4,497.1 H940.6 A4.2,4.2 0 0 1 944.8,501.3 V513.7 A4.2,4.2 0 0 1 940.6,517.9 H937.4 Z" fill="none" stroke="#222" stroke-width="0.9" />
<rect x="915.8" y="541.3" width="38.1" height="26.4" fill="none" stroke="#000" stroke-width="1.1" />
<path d="M937.4,544.1 H940.6 A4.2,4.2 0 0 1 944.8,548.3 V560.7 A4.2,4.2 0 0 1 940.6,564.9 H937.4 Z" fill="none" stroke="#222" stroke-width="0.9" />
<rect x="832.4" y="333.2" width="38" height="19.2" fill="none" stroke="#000" stroke-width="1.1" />
<rect x="841.3" y="340.6" width="19.3" height="4.4" fill="none" stroke="#222" stroke-width="0.9" />
<rect x="832.4" y="474" width="38" height="19.2" fill="none" stroke="#000" stroke-width="1.1" />
<rect x="841.3" y="481.4" width="19.3" height="4.4" fill="none" stroke="#222" stroke-width="0.9" />
<circle cx="877.9" cy="295.9" r="11.2" fill="none" stroke="#000" stroke-width="1"/>
<circle cx="877.9" cy="530.5" r="11.2" fill="none" stroke="#000" stroke-width="1"/>
<line x1="767.3" y1="295.9" x2="873" y2="295.9" stroke="#000" stroke-width="1.0" />
<line x1="767.7" y1="530.5" x2="866.6" y2="530.5" stroke="#000" stroke-width="1.0" />
<line x1="772.7" y1="295.9" x2="772.7" y2="530.5" stroke="#000" stroke-width="1.0" />
<polygon points="772.7,295.9 774.7,305.9 770.7,305.9" fill="#000"/>
<polygon points="772.7,530.5 770.7,520.5 774.7,520.5" fill="#000"/>
<text transform="translate(771.7,430) rotate(-90)" font-size="14.2" font-family="'Liberation Sans', sans-serif" fill="#000" textLength="30.8" lengthAdjust="spacingAndGlyphs" >12.50</text>
<line x1="786.4" y1="342.6" x2="827.9" y2="342.6" stroke="#000" stroke-width="1.0" />
<line x1="786.2" y1="483.6" x2="827.8" y2="483.6" stroke="#000" stroke-width="1.0" />
<line x1="791" y1="342.6" x2="791" y2="483.6" stroke="#000" stroke-width="1.0" />
<polygon points="791,342.6 793,352.6 789,352.6" fill="#000"/>
<polygon points="791,483.6 789,473.6 793,473.6" fill="#000"/>
<text transform="translate(789.3,424.5) rotate(-90)" font-size="14.2" font-family="'Liberation Sans', sans-serif" fill="#000" textLength="23.7" lengthAdjust="spacingAndGlyphs" >7.50</text>
<line x1="915" y1="241.3" x2="953.8" y2="241.3" stroke="#000" stroke-width="1.0" />
<polygon points="915,241.3 925,239.3 925,243.3" fill="#000"/>
<polygon points="953.8,241.3 943.8,243.3 943.8,239.3" fill="#000"/>
<line x1="915" y1="236.9" x2="915" y2="255.2" stroke="#000" stroke-width="1.0" />
<line x1="953.8" y1="236.9" x2="953.8" y2="255.2" stroke="#000" stroke-width="1.0" />
<text x="921.6" y="239.8" font-size="14.2" font-family="'Liberation Sans', sans-serif" text-anchor="start" fill="#000" textLength="26.4" lengthAdjust="spacingAndGlyphs" >2.00</text>
<line x1="898.4" y1="221.7" x2="898.4" y2="285.7" stroke="#000" stroke-width="1.0" />
<polygon points="898.4,259.3 900.4,269.3 896.4,269.3" fill="#000"/>
<polygon points="898.4,285.7 896.4,275.7 900.4,275.7" fill="#000"/>
<line x1="893.1" y1="259.3" x2="911.9" y2="259.3" stroke="#000" stroke-width="1.0" />
<line x1="893.1" y1="285.7" x2="911.9" y2="285.7" stroke="#000" stroke-width="1.0" />
<text transform="translate(896.7,249) rotate(-90)" font-size="14.2" font-family="'Liberation Sans', sans-serif" fill="#000" textLength="24.8" lengthAdjust="spacingAndGlyphs" >1.40</text>
<line x1="832.3" y1="324" x2="870.4" y2="324" stroke="#000" stroke-width="1.0" />
<polygon points="832.3,324 842.3,322 842.3,326" fill="#000"/>
<polygon points="870.4,324 860.4,326 860.4,322" fill="#000"/>
<line x1="832.3" y1="319.4" x2="832.3" y2="329.6" stroke="#000" stroke-width="1.0" />
<line x1="870.4" y1="319.4" x2="870.4" y2="329.6" stroke="#000" stroke-width="1.0" />
<text x="838.6" y="322.3" font-size="14.2" font-family="'Liberation Sans', sans-serif" text-anchor="start" fill="#000" textLength="26.4" lengthAdjust="spacingAndGlyphs" >2.00</text>
<line x1="887" y1="315" x2="887" y2="399.5" stroke="#000" stroke-width="1.0" />
<polygon points="887,333.3 885,323.3 889,323.3" fill="#000"/>
<polygon points="887,352.3 889,362.3 885,362.3" fill="#000"/>
<line x1="874.3" y1="333.3" x2="891.8" y2="333.3" stroke="#000" stroke-width="1.0" />
<line x1="874.3" y1="352.3" x2="891.8" y2="352.3" stroke="#000" stroke-width="1.0" />
<text transform="translate(884.5,398) rotate(-90)" font-size="14.2" font-family="'Liberation Sans', sans-serif" fill="#000" textLength="24.9" lengthAdjust="spacingAndGlyphs" >1.00</text>
<line x1="976.1" y1="272.3" x2="976.1" y2="413.3" stroke="#000" stroke-width="1.0" />
<line x1="957.8" y1="272.3" x2="981" y2="272.3" stroke="#000" stroke-width="1.0" />
<polygon points="976.1,272.3 978.1,282.3 974.1,282.3" fill="#000"/>
<line x1="957.8" y1="319.3" x2="981" y2="319.3" stroke="#000" stroke-width="1.0" />
<polygon points="976.1,319.3 974.1,309.3 978.1,309.3" fill="#000"/>
<polygon points="976.1,319.3 978.1,329.3 974.1,329.3" fill="#000"/>
<line x1="964.6" y1="316.8" x2="964.6" y2="321.8" stroke="#000" stroke-width="1.0" />
<line x1="957.8" y1="366.3" x2="981" y2="366.3" stroke="#000" stroke-width="1.0" />
<polygon points="976.1,366.3 974.1,356.3 978.1,356.3" fill="#000"/>
<polygon points="976.1,366.3 978.1,376.3 974.1,376.3" fill="#000"/>
<line x1="964.6" y1="363.8" x2="964.6" y2="368.8" stroke="#000" stroke-width="1.0" />
<line x1="957.8" y1="413.3" x2="981" y2="413.3" stroke="#000" stroke-width="1.0" />
<polygon points="976.1,413.3 974.1,403.3 978.1,403.3" fill="#000"/>
<text transform="translate(974.4,308.9) rotate(-90)" font-size="14.2" font-family="'Liberation Sans', sans-serif" fill="#000" textLength="25.7" lengthAdjust="spacingAndGlyphs" >2.50</text>
<text transform="translate(974.4,355.3) rotate(-90)" font-size="14.2" font-family="'Liberation Sans', sans-serif" fill="#000" textLength="25.7" lengthAdjust="spacingAndGlyphs" >2.50</text>
<text transform="translate(974.4,402.6) rotate(-90)" font-size="14.2" font-family="'Liberation Sans', sans-serif" fill="#000" textLength="25.4" lengthAdjust="spacingAndGlyphs" >2.50</text>
<text x="793.3" y="415.8" font-size="10.5" font-family="'Liberation Serif', 'Noto Serif CJK SC', serif" text-anchor="start" fill="#000" font-weight="bold" >此固定片仅用于固定产品，</text>
<text x="793.3" y="429.6" font-size="10.5" font-family="'Liberation Serif', 'Noto Serif CJK SC', serif" text-anchor="start" fill="#000" font-weight="bold" >请勿连接电路。</text>
<line x1="815.5" y1="404" x2="828.9" y2="346.7" stroke="#000" stroke-width="1.0" />
<polygon points="828.9,346.7 828.59,356.38 824.89,355.52" fill="#000"/>
<line x1="815.5" y1="433.2" x2="829.4" y2="471.7" stroke="#000" stroke-width="1.0" />
<polygon points="829.4,471.7 824.39,463.41 827.96,462.12" fill="#000"/>
<line x1="792.4" y1="570.4" x2="904.9" y2="517" stroke="#000" stroke-width="1.0" />
<polygon points="867.8,534.8 860.03,540.59 858.4,537.16" fill="#000"/>
<polygon points="888,525.2 895.77,519.41 897.4,522.84" fill="#000"/>
<text transform="translate(793.8,566.2) rotate(-25.39)" font-size="14.2" font-family="'Liberation Sans', sans-serif" textLength="33" lengthAdjust="spacingAndGlyphs">φ1.20</text>
<text x="817" y="597.2" font-size="13.6" font-family="'Liberation Serif', 'Noto Serif CJK SC', serif" text-anchor="start" fill="#000" textLength="146.5" lengthAdjust="spacingAndGlyphs" word-spacing="4">RECOMMENDED PCB LAYOUT</text>
<line x1="810.9" y1="600.6" x2="969.6" y2="600.6" stroke="#000" stroke-width="1.2" />
<line x1="810.9" y1="605.8" x2="969.6" y2="605.8" stroke="#000" stroke-width="1.2" />
<text x="826.3" y="619.3" font-size="13.6" font-family="'Liberation Serif', 'Noto Serif CJK SC', serif" text-anchor="start" fill="#000" textLength="79.5" lengthAdjust="spacingAndGlyphs" word-spacing="3">TOP VIEW(.XX</text>
<text x="906.5" y="619.3" font-size="13.6" font-family="'Liberation Serif', 'Noto Serif CJK SC', serif" text-anchor="start" fill="#000" textLength="12" lengthAdjust="spacingAndGlyphs" >±</text>
<text x="919.6" y="619.3" font-size="13.6" font-family="'Liberation Serif', 'Noto Serif CJK SC', serif" text-anchor="start" fill="#000" textLength="32" lengthAdjust="spacingAndGlyphs" >0.05)</text>
</svg>
</body></html>
